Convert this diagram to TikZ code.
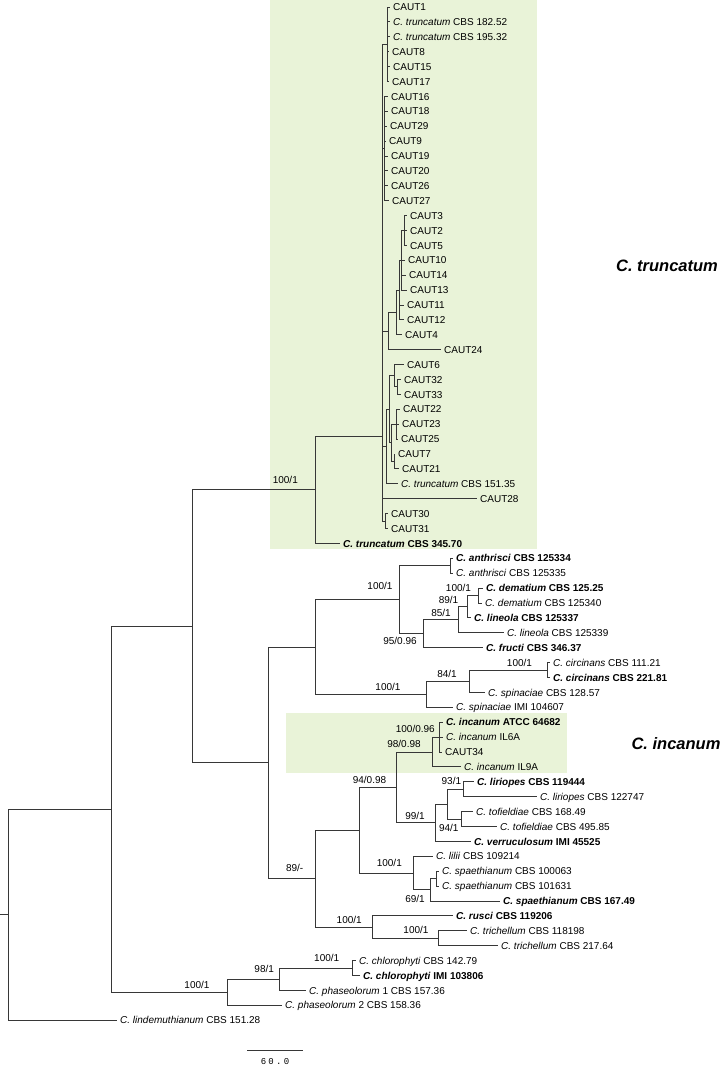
\documentclass[tikz,border=0pt]{standalone}
\usepackage{fontspec}
\setmainfont{Liberation Sans}
\newfontfamily\scalebarfont[LetterSpace=25]{Liberation Mono}
\definecolor{shadegreen}{RGB}{233,243,216}
\definecolor{lncol}{RGB}{55,55,55}
\newcommand\nsp[2]{\textit{#1} #2}
\newcommand\bsp[2]{\textbf{\textit{#1} #2}}
\newcommand\leafbr[2]{\draw[br] (#1) |- ([xshift=-3pt]#2.west);}
\newcommand\nodebr[2]{\draw[br] (#1) |- (#2);}
\begin{document}
\begin{tikzpicture}[x=1pt,y=-1pt,
  br/.style={draw=lncol, line width=0.95pt},
  lf/.style={anchor=west, inner sep=0pt, text height=7.2pt, text depth=0pt, font=\fontsize{10}{12}\selectfont},
  bs/.style={inner sep=0pt, text height=7.2pt, text depth=0pt, font=\fontsize{10}{12}\selectfont},
  cl/.style={inner sep=0pt, font=\fontsize{16.5}{19}\selectfont\bfseries\itshape}]
\useasboundingbox (0,0) rectangle (723,1066);
\fill[shadegreen] (270,0) rectangle (537,549);
\fill[shadegreen] (286,713) rectangle (567,773);

% ---------- leaves: C. truncatum clade ----------
\node[lf] (r0) at (393,7.0) {CAUT1};
\node[lf] (r1) at (393,21.9) {\nsp{C. truncatum}{CBS 182.52}};
\node[lf] (r2) at (393,36.8) {\nsp{C. truncatum}{CBS 195.32}};
\node[lf] (r3) at (392,51.7) {CAUT8};
\node[lf] (r4) at (393,66.6) {CAUT15};
\node[lf] (r5) at (392,81.5) {CAUT17};
\node[lf] (r6) at (391,96.4) {CAUT16};
\node[lf] (r7) at (391,111.3) {CAUT18};
\node[lf] (r8) at (390,126.2) {CAUT29};
\node[lf] (r9) at (389,141.1) {CAUT9};
\node[lf] (r10) at (391,156.0) {CAUT19};
\node[lf] (r11) at (391,170.9) {CAUT20};
\node[lf] (r12) at (391,185.8) {CAUT26};
\node[lf] (r13) at (392,200.7) {CAUT27};
\node[lf] (r14) at (410,215.6) {CAUT3};
\node[lf] (r15) at (410,230.5) {CAUT2};
\node[lf] (r16) at (410,245.4) {CAUT5};
\node[lf] (r17) at (408,260.3) {CAUT10};
\node[lf] (r18) at (409,275.2) {CAUT14};
\node[lf] (r19) at (410,290.1) {CAUT13};
\node[lf] (r20) at (407,305.0) {CAUT11};
\node[lf] (r21) at (407,319.9) {CAUT12};
\node[lf] (r22) at (405,334.8) {CAUT4};
\node[lf] (r23) at (444,349.7) {CAUT24};
\node[lf] (r24) at (407,364.6) {CAUT6};
\node[lf] (r25) at (404,379.5) {CAUT32};
\node[lf] (r26) at (404,394.4) {CAUT33};
\node[lf] (r27) at (403,409.3) {CAUT22};
\node[lf] (r28) at (402,424.2) {CAUT23};
\node[lf] (r29) at (401,439.1) {CAUT25};
\node[lf] (r30) at (398,454.0) {CAUT7};
\node[lf] (r31) at (402,468.9) {CAUT21};
\node[lf] (r32) at (401,483.8) {\nsp{C. truncatum}{CBS 151.35}};
\node[lf] (r33) at (480,498.7) {CAUT28};
\node[lf] (r34) at (391,513.6) {CAUT30};
\node[lf] (r35) at (391,528.5) {CAUT31};
\node[lf] (r36) at (343,543.4) {\bsp{C. truncatum}{CBS 345.70}};

% ---------- leaves: rest ----------
\node[lf] (r37) at (456,558.3) {\bsp{C. anthrisci}{CBS 125334}};
\node[lf] (r38) at (456,573.2) {\nsp{C. anthrisci}{CBS 125335}};
\node[lf] (r39) at (486,588.1) {\bsp{C. dematium}{CBS 125.25}};
\node[lf] (r40) at (485,603.0) {\nsp{C. dematium}{CBS 125340}};
\node[lf] (r41) at (474,617.9) {\bsp{C. lineola}{CBS 125337}};
\node[lf] (r42) at (507,632.8) {\nsp{C. lineola}{CBS 125339}};
\node[lf] (r43) at (486,647.7) {\bsp{C. fructi}{CBS 346.37}};
\node[lf] (r44) at (553,662.6) {\nsp{C. circinans}{CBS 111.21}};
\node[lf] (r45) at (553,677.5) {\bsp{C. circinans}{CBS 221.81}};
\node[lf] (r46) at (488,692.4) {\nsp{C. spinaciae}{CBS 128.57}};
\node[lf] (r47) at (456,707.3) {\nsp{C. spinaciae}{IMI 104607}};
\node[lf] (r48) at (446,722.2) {\bsp{C. incanum}{ATCC 64682}};
\node[lf] (r49) at (446,737.1) {\nsp{C. incanum}{IL6A}};
\node[lf] (r50) at (445,752.0) {CAUT34};
\node[lf] (r51) at (464,766.9) {\nsp{C. incanum}{IL9A}};
\node[lf] (r52) at (477,781.8) {\bsp{C. liriopes}{CBS 119444}};
\node[lf] (r53) at (540,796.7) {\nsp{C. liriopes}{CBS 122747}};
\node[lf] (r54) at (476,811.6) {\nsp{C. tofieldiae}{CBS 168.49}};
\node[lf] (r55) at (500,826.5) {\nsp{C. tofieldiae}{CBS 495.85}};
\node[lf] (r56) at (474,841.4) {\bsp{C. verruculosum}{IMI 45525}};
\node[lf] (r57) at (436,856.3) {\nsp{C. lilii}{CBS 109214}};
\node[lf] (r58) at (442,871.2) {\nsp{C. spaethianum}{CBS 100063}};
\node[lf] (r59) at (442,886.1) {\nsp{C. spaethianum}{CBS 101631}};
\node[lf] (r60) at (503,901.0) {\bsp{C. spaethianum}{CBS 167.49}};
\node[lf] (r61) at (456,915.9) {\bsp{C. rusci}{CBS 119206}};
\node[lf] (r62) at (470,930.8) {\nsp{C. trichellum}{CBS 118198}};
\node[lf] (r63) at (501,945.7) {\nsp{C. trichellum}{CBS 217.64}};
\node[lf] (r64) at (359,960.6) {\nsp{C. chlorophyti}{CBS 142.79}};
\node[lf] (r65) at (363,975.5) {\bsp{C. chlorophyti}{IMI 103806}};
\node[lf] (r66) at (309,990.4) {\nsp{C. phaseolorum}{1 CBS 157.36}};
\node[lf] (r67) at (285,1005.3) {\nsp{C. phaseolorum}{2 CBS 158.36}};
\node[lf] (r68) at (120,1020.2) {\nsp{C. lindemuthianum}{CBS 151.28}};

% ---------- internal nodes ----------
\coordinate (g1) at (387,44.25);
\coordinate (g2) at (384,148.55);
\coordinate (n3a) at (404,230.5);
\coordinate (n3b) at (401.5,260.3);
\coordinate (n3c) at (399,290.1);
\coordinate (n3d) at (396,312.45);
\coordinate (n3e) at (388,331.1);
\coordinate (n4a) at (397.5,386.95);
\coordinate (n4b) at (394,375.8);
\coordinate (n4c) at (396,424.2);
\coordinate (n4d) at (394,461.45);
\coordinate (n4e) at (391,442.8);
\coordinate (n4f) at (389,409.3);
\coordinate (n4g) at (386,446.55);
\coordinate (n56) at (385,521.05);
\coordinate (C) at (382,436);
\coordinate (Tc) at (315,489.7);
\coordinate (anth) at (450,565.75);
\coordinate (dem) at (478,595.55);
\coordinate (I) at (467,606.7);
\coordinate (H) at (458,619.75);
\coordinate (G) at (423,633.7);
\coordinate (F) at (399,599.7);
\coordinate (circ) at (547,670.05);
\coordinate (K) at (469,681.2);
\coordinate (J) at (426,694.25);
\coordinate (E) at (315,646.98);
\coordinate (P) at (439,737.1);
\coordinate (O) at (432,752.0);
\coordinate (S) at (463,789.25);
\coordinate (T) at (461,819.05);
\coordinate (R) at (447,804.15);
\coordinate (Q) at (435,822.8);
\coordinate (N) at (396,787.4);
\coordinate (spa) at (436,878.65);
\coordinate (V) at (430,889.8);
\coordinate (U) at (413,873.05);
\coordinate (M) at (359,830.2);
\coordinate (X) at (438,938.25);
\coordinate (W) at (372,927.1);
\coordinate (L) at (315,878.65);
\coordinate (D) at (268,762.8);
\coordinate (B) at (192,626.25);
\coordinate (chl) at (352,968.05);
\coordinate (Z) at (279,979.2);
\coordinate (Y) at (227,992.25);
\coordinate (A) at (111,809.25);
\coordinate (root) at (8,914.7);
\coordinate (rootstub) at (0,914.7);

% ---------- branches ----------
\foreach \c in {r0,r1,r2,r3,r4,r5} {\leafbr{g1}{\c}}
\foreach \c in {r6,r7,r8,r9,r10,r11,r12,r13} {\leafbr{g2}{\c}}
\foreach \c in {r14,r15,r16} {\leafbr{n3a}{\c}}
\nodebr{n3b}{n3a}
\foreach \c in {r17,r18,r19} {\leafbr{n3b}{\c}}
\nodebr{n3c}{n3b}
\foreach \c in {r20,r21} {\leafbr{n3c}{\c}}
\nodebr{n3d}{n3c} \leafbr{n3d}{r22}
\nodebr{n3e}{n3d} \leafbr{n3e}{r23}
\foreach \c in {r25,r26} {\leafbr{n4a}{\c}}
\leafbr{n4b}{r24} \nodebr{n4b}{n4a}
\foreach \c in {r27,r28,r29} {\leafbr{n4c}{\c}}
\foreach \c in {r30,r31} {\leafbr{n4d}{\c}}
\nodebr{n4e}{n4c} \nodebr{n4e}{n4d}
\nodebr{n4f}{n4b} \nodebr{n4f}{n4e}
\nodebr{n4g}{n4f} \leafbr{n4g}{r32}
\foreach \c in {r34,r35} {\leafbr{n56}{\c}}
\nodebr{C}{g1} \nodebr{C}{g2} \nodebr{C}{n3e} \nodebr{C}{n4g} \nodebr{C}{n56}
\leafbr{C}{r33}
\nodebr{Tc}{C} \leafbr{Tc}{r36}

\foreach \c in {r37,r38} {\leafbr{anth}{\c}}
\foreach \c in {r39,r40} {\leafbr{dem}{\c}}
\nodebr{I}{dem} \leafbr{I}{r41}
\nodebr{H}{I} \leafbr{H}{r42}
\nodebr{G}{H} \leafbr{G}{r43}
\nodebr{F}{anth} \nodebr{F}{G}
\foreach \c in {r44,r45} {\leafbr{circ}{\c}}
\nodebr{K}{circ} \leafbr{K}{r46}
\nodebr{J}{K} \leafbr{J}{r47}
\nodebr{E}{F} \nodebr{E}{J}
\foreach \c in {r48,r49,r50} {\leafbr{P}{\c}}
\nodebr{O}{P} \leafbr{O}{r51}
\foreach \c in {r52,r53} {\leafbr{S}{\c}}
\foreach \c in {r54,r55} {\leafbr{T}{\c}}
\nodebr{R}{S} \nodebr{R}{T}
\nodebr{Q}{R} \leafbr{Q}{r56}
\nodebr{N}{O} \nodebr{N}{Q}
\foreach \c in {r58,r59} {\leafbr{spa}{\c}}
\nodebr{V}{spa} \leafbr{V}{r60}
\leafbr{U}{r57} \nodebr{U}{V}
\nodebr{M}{N} \nodebr{M}{U}
\foreach \c in {r62,r63} {\leafbr{X}{\c}}
\leafbr{W}{r61} \nodebr{W}{X}
\nodebr{L}{M} \nodebr{L}{W}
\nodebr{D}{E} \nodebr{D}{L}
\nodebr{B}{Tc} \nodebr{B}{D}
\foreach \c in {r64,r65} {\leafbr{chl}{\c}}
\nodebr{Z}{chl} \leafbr{Z}{r66}
\nodebr{Y}{Z} \leafbr{Y}{r67}
\nodebr{A}{B} \nodebr{A}{Y}
\nodebr{root}{A} \leafbr{root}{r68}
\draw[br] (rootstub) -- (root);

% ---------- support values ----------
\node[bs] (b1) at (285.3,480) {100/1};
\node[bs] (b2) at (380,586) {100/1};
\node[bs] (b3) at (458.5,587.5) {100/1};
\node[bs] (b4) at (448.5,600) {89/1};
\node[bs] (b5) at (441,613) {85/1};
\node[bs] (b6) at (400,640.5) {95/0.96};
\node[bs] (b7) at (388,686.7) {100/1};
\node[bs] (b8) at (447,674) {84/1};
\node[bs] (b9) at (519.5,663.3) {100/1};
\node[bs] (b10) at (415.3,729.3) {100/0.96};
\node[bs] (b11) at (404,744) {98/0.98};
\node[bs] (b12) at (369.5,780) {94/0.98};
\node[bs] (b13) at (451.4,781) {93/1};
\node[bs] (b14) at (415,816.3) {99/1};
\node[bs] (b15) at (448.8,828) {94/1};
\node[bs] (b16) at (389.3,863.3) {100/1};
\node[bs] (b17) at (415,899.3) {69/1};
\node[bs] (b18) at (294.7,868.3) {89/-};
\node[bs] (b19) at (349.2,920) {100/1};
\node[bs] (b20) at (416,930) {100/1};
\node[bs] (b21) at (326.7,958.3) {100/1};
\node[bs] (b22) at (264.2,969.3) {98/1};
\node[bs] (b23) at (197,985.3) {100/1};

% ---------- clade labels ----------
\node[cl] (cltr) at (667,266) {C. truncatum};
\node[cl] (clin) at (676,744) {C. incanum};

% ---------- scale bar ----------
\coordinate (sb1) at (247,1050);
\coordinate (sb2) at (303,1050);
\draw[br] (sb1) -- (sb2);
\node[inner sep=0pt, font=\scalebarfont\fontsize{9}{10}\selectfont] (sbt) at (275,1062) {60.0};
\end{tikzpicture}
\end{document}
